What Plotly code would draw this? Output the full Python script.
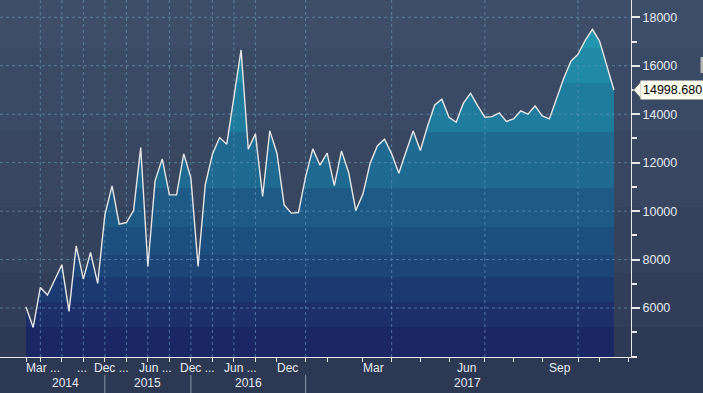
import plotly.graph_objects as go

# ---- data (equally spaced observations, index positions) ----
values = [6041, 5200, 6850, 6536, 7160, 7786, 5860, 8569, 7196, 8293,
          7015, 9847, 11043, 9464, 9530, 10025, 12623, 7716, 11250, 12157,
          10672, 10672, 12363, 11361, 7716, 11085, 12350, 13035, 12763, 14700,
          16652, 12557, 13188, 10602, 13311, 12392, 10260, 9918, 9943, 11427,
          12569, 11897, 12392, 11056, 12487, 11592, 10025, 10713, 11979, 12693,
          12969, 12363, 11567, 12450, 13311, 12499, 13500, 14383, 14619, 13876,
          13670, 14454, 14866, 14342, 13876, 13901, 14054, 13703, 13806, 14136,
          14004, 14342, 13930, 13806, 14660, 15485, 16186, 16478, 17052, 17505,
          17014, 16021, 14998.68]
last_label = "14998.680"

grid_idx = [2, 5, 8, 11, 14, 17, 20, 23, 26, 29, 32, 39, 51, 64, 77]
tick_idx = [0, 2, 5, 8, 11, 14, 17, 20, 23, 26, 29, 32, 35, 39, 42, 47, 51,
            55, 59, 64, 68, 72, 77, 80, 84]
month_labels = ["Mar ...", "...", "Dec ...", "Jun ...", "Dec ...", "Jun ...",
                "Dec", "Mar", "Jun", "Sep"]
month_pos = [2.33, 7.77, 11.97, 18.0, 23.9, 29.85, 36.5, 48.4, 61.5, 74.5]
year_labels = ["2014", "2015", "2016", "2017"]
year_pos = [5.44, 16.97, 31.0, 61.6]
year_sep = [11, 23, 39]

y_major = [6000, 8000, 10000, 12000, 14000, 16000, 18000]
y_minor = [4000, 5000, 7000, 9000, 11000, 13000, 15000, 17000]

# ---- geometry ----
W, H = 703, 393
ML, MR, MT, MB = 0, 72, 0, 36
PW, PH = W - ML - MR, H - MT - MB
XR = [-3.626, 84.38]
YR = [3980, 18713]

x = list(range(len(values)))

# stepped fill colour bands (value boundaries)
band_bounds = [5229, 6260, 7291, 8198, 9353, 10961, 13270, 15291, 16734]
band_cols = ["#1b2764", "#1c2f6b", "#1c3a72", "#1d4578", "#1d4f7e",
             "#1e5a86", "#1e6a90", "#1f7c9c", "#2089a5", "#2296ac"]
span = YR[1] - YR[0]
cs = [[0, band_cols[0]]]
for b, c0, c1 in zip(band_bounds, band_cols[:-1], band_cols[1:]):
    p = (b - YR[0]) / span
    cs.append([p, c0])
    cs.append([p, c1])
cs.append([1, band_cols[-1]])

fig = go.Figure()
fig.add_trace(go.Scatter(
    x=x, y=values, mode="lines", line=dict(width=0, color="rgba(0,0,0,0)"),
    fill="tozeroy",
    fillgradient=dict(type="vertical", colorscale=cs, start=YR[0], stop=YR[1]),
    hoverinfo="skip", showlegend=False))

# dashed gridlines drawn above the fill
gc = "rgba(95,145,180,0.7)"
hx, hy = [], []
for v in y_major:
    hx += [XR[0], XR[1], None]
    hy += [v, v, None]
fig.add_trace(go.Scatter(x=hx, y=hy, mode="lines",
                         line=dict(color=gc, width=1, dash="3px,3px"),
                         hoverinfo="skip", showlegend=False))
vx, vy = [], []
for g in grid_idx:
    vx += [g, g, None]
    vy += [YR[0], YR[1], None]
fig.add_trace(go.Scatter(x=vx, y=vy, mode="lines",
                         line=dict(color=gc, width=1, dash="3px,3px"),
                         hoverinfo="skip", showlegend=False))

fig.add_trace(go.Scatter(x=x, y=values, mode="lines",
                         line=dict(color="#e6e6e6", width=1.4),
                         hoverinfo="skip", showlegend=False))

# background bands (pixel rows of the figure)
bg_rows = [(0, 48, "#3f4e68"), (48, 131, "#3b4a64"), (131, 207, "#384660"),
           (207, 273, "#35425c"), (273, 327, "#323e58"), (327, 357, "#2e3953"),
           (357, 393, "#2d3852")]
shapes = []
for r0, r1, c in bg_rows:
    shapes.append(dict(type="rect", xref="paper", yref="paper", layer="below",
                       x0=-ML / PW, x1=(W - ML) / PW,
                       y0=(PH - r1) / PH, y1=(PH - r0) / PH,
                       fillcolor=c, line=dict(width=0)))
for s in year_sep:
    shapes.append(dict(type="line", xref="x", yref="paper", x0=s, x1=s,
                       y0=-18 / PH, y1=-36 / PH,
                       line=dict(color="#8a96a8", width=1)))
# small scroll marker at the right edge
shapes.append(dict(type="rect", xref="paper", yref="paper", layer="above",
                   x0=700.5 / PW, x1=703 / PW, y0=(PH - 73) / PH, y1=(PH - 57) / PH,
                   fillcolor="#b8b8b0", line=dict(width=0)))

# value flag arrow
last = values[-1]
dy = 8.5 / PH * span
shapes.append(dict(type="path", xref="paper", yref="y",
                   path=f"M {633.5/PW},{last} L {641/PW},{last+dy} L {641/PW},{last-dy} Z",
                   fillcolor="#fdfbee", line=dict(color="#555555", width=0.8)))

annotations = []
fnt = dict(family="Liberation Sans, Arial, sans-serif", size=12, color="#e4ebf2")
for t, p in zip(month_labels, month_pos):
    annotations.append(dict(text=t, x=p, xref="x", y=-11 / PH, yref="paper",
                            xanchor="center", yanchor="middle", showarrow=False,
                            font=fnt))
for t, p in zip(year_labels, year_pos):
    annotations.append(dict(text=t, x=p, xref="x", y=-26 / PH, yref="paper",
                            xanchor="center", yanchor="middle", showarrow=False,
                            font=fnt))
annotations.append(dict(text=last_label, x=639.5 / PW, xref="paper", y=last, yref="y",
                        xanchor="left", yanchor="middle", showarrow=False,
                        bgcolor="#fdfbee", borderpad=2,
                        font=dict(family="Liberation Sans, Arial, sans-serif",
                                  size=12.5, color="#000000")))

fig.update_layout(
    width=W, height=H, margin=dict(l=ML, r=MR, t=MT, b=MB),
    paper_bgcolor="#2d3852", plot_bgcolor="rgba(0,0,0,0)",
    shapes=shapes, annotations=annotations, showlegend=False,
    xaxis=dict(range=XR, showgrid=False, zeroline=False, tickmode="array",
               tickvals=tick_idx, showticklabels=False, ticks="outside",
               ticklen=4, tickcolor="#e8e8e8", showline=True,
               linecolor="#e8e8e8", linewidth=1),
    yaxis=dict(range=YR, side="right", showgrid=False, zeroline=False,
               tickmode="array", tickvals=y_major,
               ticktext=[str(v) for v in y_major], ticks="outside", ticklen=8,
               tickwidth=1.5, tickcolor="#e8e8e8", showline=True,
               linecolor="#e8e8e8", linewidth=1,
               tickfont=dict(family="Liberation Sans, Arial, sans-serif",
                             size=12.5, color="#e4ebf2"),
               minor=dict(tickvals=y_minor, ticks="outside", ticklen=5,
                          tickcolor="#e8e8e8", showgrid=False)),
)

fig.write_html("out.html")
